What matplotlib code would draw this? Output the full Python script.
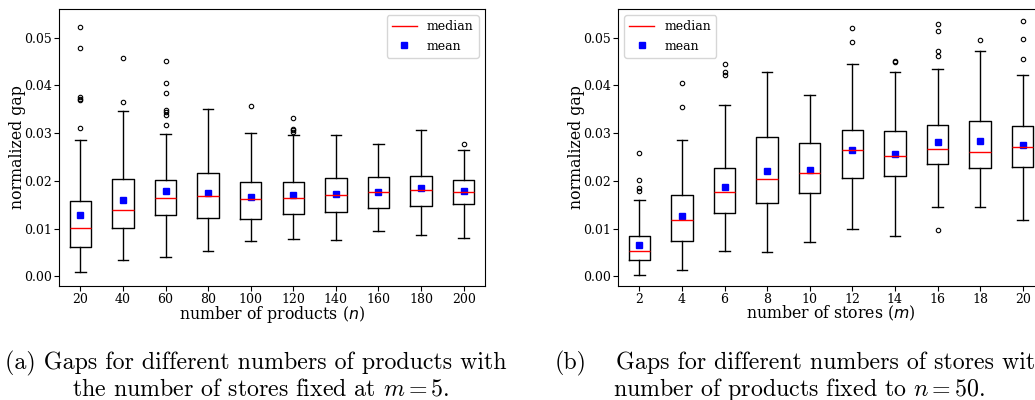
import numpy as np
import matplotlib
matplotlib.use("Agg")
import matplotlib.pyplot as plt
from matplotlib.lines import Line2D

# (a) number of products, m = 5
products = [20, 40, 60, 80, 100, 120, 140, 160, 180, 200]
a_whislo = [0.0010, 0.0034, 0.0041, 0.0052, 0.0075, 0.0078, 0.0076, 0.0094, 0.0086, 0.0081]
a_q1 = [0.0062, 0.0101, 0.0128, 0.0123, 0.0121, 0.0131, 0.0134, 0.0144, 0.0147, 0.0152]
a_med = [0.0102, 0.0139, 0.0165, 0.0168, 0.0161, 0.0165, 0.0170, 0.0176, 0.0180, 0.0177]
a_q3 = [0.0157, 0.0203, 0.0202, 0.0217, 0.0198, 0.0197, 0.0205, 0.0209, 0.0211, 0.0201]
a_whishi = [0.0285, 0.0347, 0.0298, 0.0351, 0.0301, 0.0296, 0.0296, 0.0277, 0.0307, 0.0265]
a_mean = [0.0128, 0.0160, 0.0178, 0.0174, 0.0166, 0.0171, 0.0172, 0.0177, 0.0184, 0.0179]
a_fliers = [
    [0.0523, 0.0478, 0.0376, 0.0372, 0.0369, 0.0311],
    [0.0458, 0.0366],
    [0.0451, 0.0404, 0.0385, 0.0348, 0.0344, 0.0338, 0.0318],
    [],
    [0.0356],
    [0.0332, 0.0309, 0.0306, 0.0302],
    [],
    [],
    [],
    [0.0277],
]

# (b) number of stores, n = 50
stores = [2, 4, 6, 8, 10, 12, 14, 16, 18, 20]
b_whislo = [0.0003, 0.0013, 0.0052, 0.0051, 0.0072, 0.0100, 0.0085, 0.0145, 0.0146, 0.0117]
b_q1 = [0.0034, 0.0075, 0.0133, 0.0154, 0.0175, 0.0205, 0.0210, 0.0235, 0.0226, 0.0230]
b_med = [0.0054, 0.0119, 0.0176, 0.0203, 0.0216, 0.0265, 0.0251, 0.0267, 0.0260, 0.0270]
b_q3 = [0.0085, 0.0170, 0.0226, 0.0291, 0.0279, 0.0307, 0.0305, 0.0318, 0.0325, 0.0314]
b_whishi = [0.0159, 0.0286, 0.0358, 0.0427, 0.0380, 0.0445, 0.0427, 0.0434, 0.0471, 0.0422]
b_mean = [0.0066, 0.0127, 0.0187, 0.0221, 0.0222, 0.0265, 0.0256, 0.0281, 0.0284, 0.0275]
b_fliers = [
    [0.0258, 0.0201, 0.0186, 0.0179],
    [0.0404, 0.0355],
    [0.0444, 0.0429, 0.0422],
    [],
    [],
    [0.0520, 0.0490],
    [0.0451, 0.0448],
    [0.0528, 0.0513, 0.0471, 0.0462, 0.0096],
    [0.0496],
    [0.0534, 0.0497, 0.0455],
]

plt.rcParams['font.family'] = 'DejaVu Serif'
plt.rcParams['mathtext.fontset'] = 'dejavusans'

fig = plt.figure(figsize=(10.35, 4.0), dpi=100)
W, H = 1035.0, 400.0
ax1 = fig.add_axes([59 / W, 1 - 286 / H, 426 / W, 277 / H])
ax2 = fig.add_axes([618 / W, 1 - 286 / H, 426 / W, 277 / H])


def draw(ax, labels, lo, q1, med, q3, hi, mean, fliers, xlabel, legend_loc):
    stats = []
    for i in range(len(labels)):
        stats.append(dict(whislo=lo[i], q1=q1[i], med=med[i], q3=q3[i],
                          whishi=hi[i], fliers=fliers[i], label=str(labels[i])))
    pos = np.arange(1, len(labels) + 1)
    ax.bxp(stats, positions=pos, widths=0.5,
           medianprops=dict(color='red', linewidth=1),
           flierprops=dict(marker='o', markersize=3.2, markerfacecolor='none',
                           markeredgecolor='black', markeredgewidth=0.8))
    ax.plot(pos, mean, 's', color='blue', markersize=4.6, linestyle='none')
    ax.set_xlim(0.5, len(labels) + 0.5)
    ax.set_ylim(-0.00203, 0.0560)
    ax.set_yticks([0.0, 0.01, 0.02, 0.03, 0.04, 0.05])
    ax.tick_params(labelsize=9, pad=1.5)
    ax.set_xlabel(xlabel, fontsize=11.3, labelpad=-1.5)
    ax.set_ylabel('normalized gap', fontsize=11.3, labelpad=-1)
    handles = [Line2D([], [], color='red', linewidth=1),
               Line2D([], [], marker='s', color='blue', linestyle='none', markersize=4.2)]
    ax.legend(handles, ['median', 'mean'], loc=legend_loc, fontsize=9)


draw(ax1, products, a_whislo, a_q1, a_med, a_q3, a_whishi, a_mean, a_fliers,
     'number of products ($n$)', 'upper right')
draw(ax2, stores, b_whislo, b_q1, b_med, b_q3, b_whishi, b_mean, b_fliers,
     'number of stores ($m$)', 'upper left')

cap = dict(family='cmr10', fontsize=17.2, va='baseline')
fig.text(5 / W, 1 - 369 / H, '(a) Gaps for different numbers of products with', ha='left', **cap)
fig.text(261 / W, 1 - 396 / H, r'the number of stores fixed at $m = 5$.', ha='center',
         math_fontfamily='cm', **cap)
fig.text(555 / W, 1 - 369 / H, '(b)', ha='left', **cap)
fig.text(616 / W, 1 - 369 / H, 'Gaps for different numbers of stores with the', ha='left', **cap)
fig.text(799 / W, 1 - 396 / H, r'number of products fixed to $n = 50$.', ha='center',
         math_fontfamily='cm', **cap)

fig.savefig('out.png', dpi=100)
